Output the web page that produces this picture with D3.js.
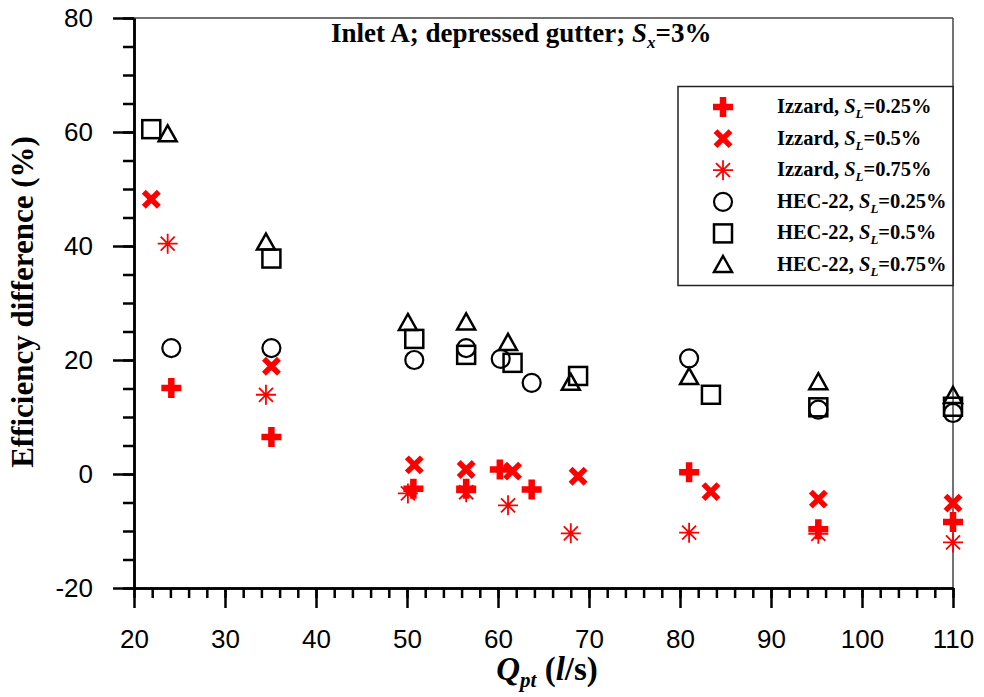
<!DOCTYPE html>
<html>
<head>
<meta charset="utf-8">
<script src="https://cdn.jsdelivr.net/npm/d3@7"></script>
<style>
  body { margin: 0; background: #fff; }
  svg { display: block; }
  .tick text { font-family: 'Liberation Sans', Arial, sans-serif; font-size: 26px; fill: #000; }
  .serif { font-family: 'Liberation Serif', 'Times New Roman', serif; font-weight: bold; fill: #000; }
</style>
</head>
<body>
<div id="chart"></div>
<script>
// --- Data ---
const qIz25  = [24.1, 35.1, 50.7, 56.5, 60.2, 63.7, 81.0, 95.2, 110];
const effIz25 = [15.1, 6.5, -2.6, -2.6, 0.8, -2.7, 0.3, -9.7, -8.4];

const qIz50  = [21.9, 35.1, 50.8, 56.5, 61.6, 68.8, 83.4, 95.2, 110];
const effIz50 = [48.2, 18.9, 1.6, 0.8, 0.5, -0.4, -3.1, -4.4, -5.1];

const qIz75  = [23.7, 34.5, 50.1, 56.5, 61.1, 68.0, 81.0, 95.2, 110];
const effIz75 = [40.4, 13.9, -3.4, -3.2, -5.5, -10.4, -10.3, -10.5, -12.0];

const qHec25  = [24.1, 35.1, 50.8, 56.5, 60.3, 63.7, 81.0, 95.2, 110];
const effHec25 = [22.1, 22.1, 20.0, 22.1, 20.2, 16.0, 20.3, 11.3, 10.7];

const qHec50  = [21.9, 35.1, 50.8, 56.5, 61.6, 68.8, 83.4, 95.2, 110];
const effHec50 = [60.5, 37.8, 23.7, 20.9, 19.5, 17.2, 13.9, 11.7, 11.8];

const qHec75  = [23.7, 34.5, 50.1, 56.5, 61.1, 68.0, 81.0, 95.2, 110];
const effHec75 = [59.6, 40.6, 26.5, 26.6, 23.0, 16.0, 17.0, 16.1, 13.7];

const xTicks = [20, 30, 40, 50, 60, 70, 80, 90, 100, 110];
const yTicks = [-20, 0, 20, 40, 60, 80];

const series = [
    { name: 'Izzard, ', sl: '0.25%', marker: 'plus',     color: '#ff0000', q: qIz25,  eff: effIz25 },
    { name: 'Izzard, ', sl: '0.5%',  marker: 'cross',    color: '#ff0000', q: qIz50,  eff: effIz50 },
    { name: 'Izzard, ', sl: '0.75%', marker: 'asterisk', color: '#ff0000', q: qIz75,  eff: effIz75 },
    { name: 'HEC-22, ', sl: '0.25%', marker: 'circle',   color: '#000000', q: qHec25, eff: effHec25 },
    { name: 'HEC-22, ', sl: '0.5%',  marker: 'square',   color: '#000000', q: qHec50, eff: effHec50 },
    { name: 'HEC-22, ', sl: '0.75%', marker: 'triangle', color: '#000000', q: qHec75, eff: effHec75 }
];

const W = 984, H = 697;

const svg = d3.select('#chart').append('svg')
    .attr('width', W)
    .attr('height', H);

// --- Scales ---
const x = d3.scaleLinear().domain([20, 110]).range([134, 953]);
const y = d3.scaleLinear().domain([-20, 80]).range([588, 18]);

// --- Frame (top and right) ---
svg.append('line')
    .attr('x1', x(20)).attr('x2', x(110))
    .attr('y1', y(80)).attr('y2', y(80))
    .attr('stroke', '#444').attr('stroke-width', 1.5);
svg.append('line')
    .attr('x1', x(110)).attr('x2', x(110))
    .attr('y1', y(80)).attr('y2', y(-20))
    .attr('stroke', '#444').attr('stroke-width', 1.5);

// --- Axes ---
function styleAxis(g) {
    g.select('.domain').attr('stroke', '#000').attr('stroke-width', 2.5);
    g.selectAll('.tick line').attr('stroke', '#000').attr('stroke-width', 2.5);
}

svg.append('g')
    .attr('transform', `translate(0,${y(-20)})`)
    .call(d3.axisBottom(x).tickValues(d3.range(20, 111, 2)).tickSize(10).tickSizeOuter(0).tickFormat(''))
    .call(styleAxis);

svg.append('g')
    .attr('transform', `translate(0,${y(-20)})`)
    .call(d3.axisBottom(x).tickValues(xTicks).tickSize(20).tickSizeOuter(0).tickPadding(22).tickFormat(d => String(d)))
    .call(styleAxis);

svg.append('g')
    .attr('transform', `translate(${x(20)},0)`)
    .call(d3.axisLeft(y).tickValues(d3.range(-20, 81, 5)).tickSize(11).tickSizeOuter(0).tickFormat(''))
    .call(styleAxis);

svg.append('g')
    .attr('transform', `translate(${x(20)},0)`)
    .call(d3.axisLeft(y).tickValues(yTicks).tickSize(21).tickSizeOuter(0).tickPadding(20).tickFormat(d => String(d)))
    .call(styleAxis);

// --- Markers ---
function drawMarker(g, type, color, cx, cy) {
    const s = 10;
    if (type === 'plus') {
        g.append('path')
            .attr('d', `M${cx - s},${cy}H${cx + s}M${cx},${cy - s}V${cy + s}`)
            .attr('stroke', color).attr('stroke-width', 6.5).attr('fill', 'none');
    } else if (type === 'cross') {
        const d = 7.5;
        g.append('path')
            .attr('d', `M${cx - d},${cy - d}L${cx + d},${cy + d}M${cx - d},${cy + d}L${cx + d},${cy - d}`)
            .attr('stroke', color).attr('stroke-width', 5.5).attr('fill', 'none');
    } else if (type === 'asterisk') {
        const d = 7;
        g.append('path')
            .attr('d', `M${cx - s},${cy}H${cx + s}M${cx},${cy - s}V${cy + s}` +
                `M${cx - d},${cy - d}L${cx + d},${cy + d}M${cx - d},${cy + d}L${cx + d},${cy - d}`)
            .attr('stroke', color).attr('stroke-width', 1.8).attr('fill', 'none');
    } else if (type === 'circle') {
        g.append('circle')
            .attr('cx', cx).attr('cy', cy).attr('r', 9)
            .attr('stroke', color).attr('stroke-width', 2.2).attr('fill', 'none');
    } else if (type === 'square') {
        g.append('rect')
            .attr('x', cx - 9).attr('y', cy - 9).attr('width', 18).attr('height', 18)
            .attr('stroke', color).attr('stroke-width', 2.5).attr('fill', 'none');
    } else if (type === 'triangle') {
        g.append('path')
            .attr('d', `M${cx},${cy - 9}L${cx + 9},${cy + 7}L${cx - 9},${cy + 7}Z`)
            .attr('stroke', color).attr('stroke-width', 2.5).attr('fill', 'none')
            .attr('stroke-linejoin', 'miter');
    }
}

const plot = svg.append('g');
// black (HEC-22) first, red (Izzard) on top
[3, 4, 5, 0, 1, 2].forEach(i => {
    const sr = series[i];
    sr.q.forEach((q, j) => drawMarker(plot, sr.marker, sr.color, x(q), y(sr.eff[j])));
});

// --- Title ---
const title = svg.append('text')
    .attr('class', 'serif')
    .attr('x', 331)
    .attr('y', 42)
    .attr('font-size', '27px');
title.append('tspan').text('Inlet A; depressed gutter; ');
title.append('tspan').attr('font-style', 'italic').text('S');
title.append('tspan').attr('font-style', 'italic').attr('font-size', '17px').attr('dy', 6).text('x');
title.append('tspan').attr('dy', -6).text('=3%');

// --- Axis titles ---
svg.append('text')
    .attr('class', 'serif')
    .attr('transform', 'translate(33,302) rotate(-90)')
    .attr('text-anchor', 'middle')
    .attr('font-size', '31px')
    .text('Efficiency difference (%)');

const xt = svg.append('text')
    .attr('class', 'serif')
    .attr('x', 547)
    .attr('y', 680)
    .attr('text-anchor', 'middle')
    .attr('font-size', '33px');
xt.append('tspan').attr('font-style', 'italic').text('Q');
xt.append('tspan').attr('font-style', 'italic').attr('font-size', '21px').attr('dy', 7).text('pt');
xt.append('tspan').attr('dy', -7).text(' (');
xt.append('tspan').attr('font-style', 'italic').text('l');
xt.append('tspan').text('/s)');

// --- Legend ---
const legend = svg.append('g');
legend.append('rect')
    .attr('x', 678).attr('y', 86.5)
    .attr('width', 275).attr('height', 199)
    .attr('fill', '#fff').attr('stroke', '#222').attr('stroke-width', 1.5);

series.forEach((sr, i) => {
    const cy = 107 + i * 31.6;
    drawMarker(legend, sr.marker, sr.color, 723, cy);
    const t = legend.append('text')
        .attr('class', 'serif')
        .attr('x', 777)
        .attr('y', cy + 6)
        .attr('font-size', '20.5px');
    t.append('tspan').text(sr.name);
    t.append('tspan').attr('font-style', 'italic').text('S');
    t.append('tspan').attr('font-style', 'italic').attr('font-size', '13px').attr('dy', 5).text('L');
    t.append('tspan').attr('dy', -5).text('=' + sr.sl);
});
</script>
</body>
</html>
